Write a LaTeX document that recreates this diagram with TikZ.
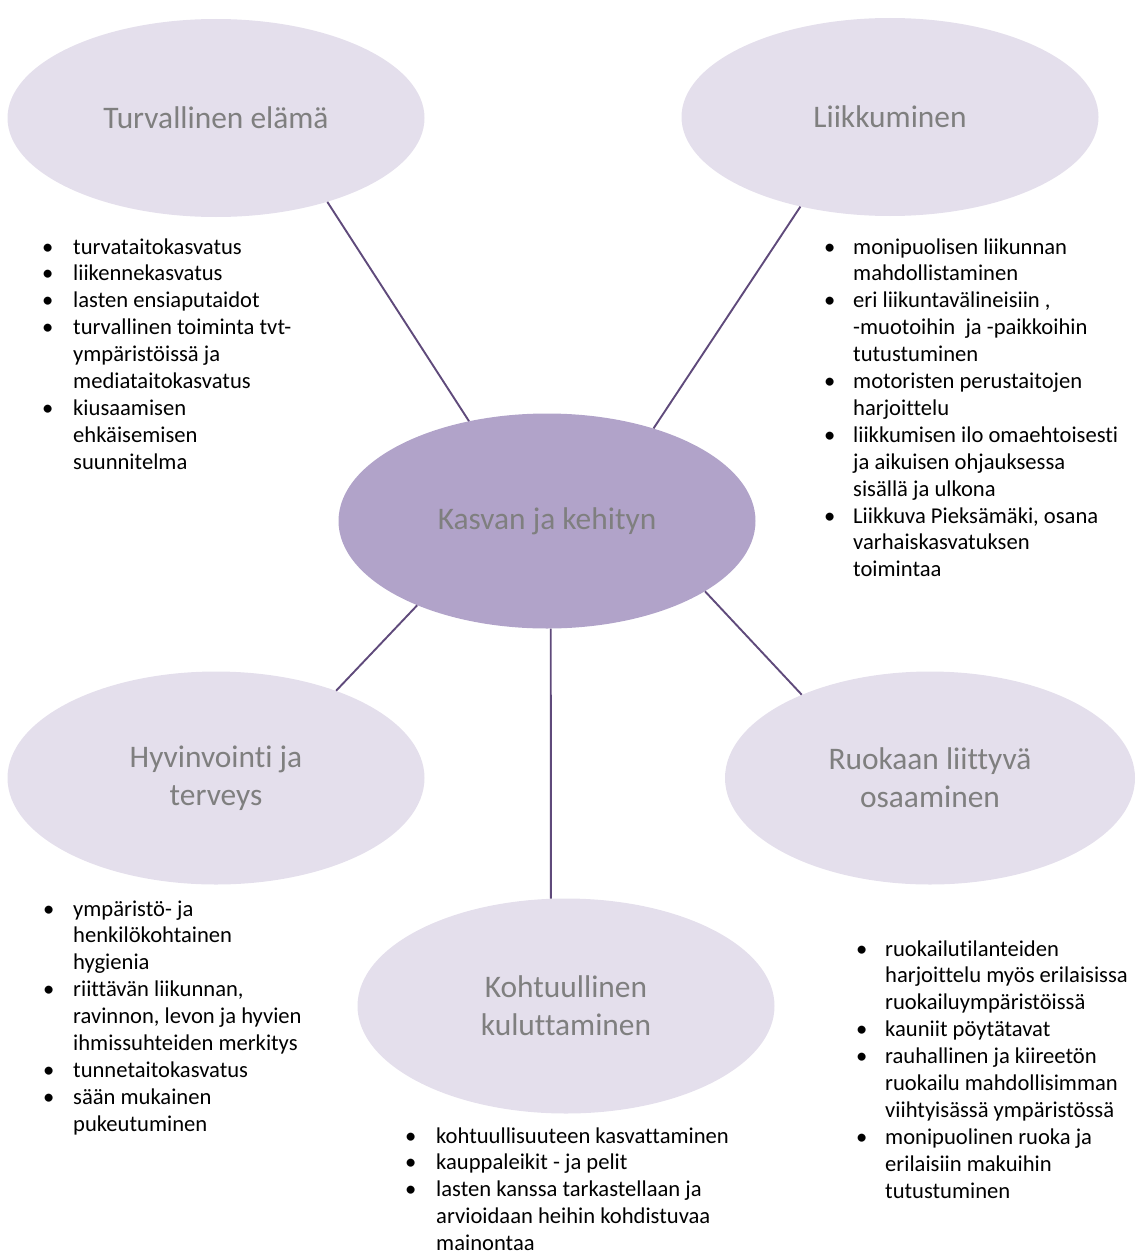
\documentclass[tikz,border=0pt]{standalone}
\usepackage{fontspec}
\setmainfont{Carlito}[Ligatures=NoCommon]
\usepackage{xcolor}
\usepackage{tikz}
\usetikzlibrary{shapes,positioning}
\definecolor{pale}{HTML}{E4DFEC}
\definecolor{mid}{HTML}{B1A3C9}
\definecolor{spokec}{HTML}{5F4A7B}
\definecolor{ttl}{HTML}{7F7F7F}

\begin{document}
\begin{tikzpicture}[x=1pt,y=-1pt,
    bubble/.style={ellipse,draw=none,fill=pale,inner sep=0pt,minimum width=417pt,
        minimum height=198pt,text=ttl,font=\fontsize{31.4}{38}\selectfont,align=center},
    hub/.style={bubble,fill=mid,minimum height=215pt},
    notes/.style={anchor=base west,inner sep=0pt,font=\fontsize{22.6}{26.9}\selectfont},
    spoke/.style={draw=spokec,line width=1.9pt}]
    \useasboundingbox (0,0) rectangle (1135,1255);

    % Bubbles
    \node[hub] (kasvu) at (547,521) {Kasvan ja kehityn};
    \node[bubble] (turva) at (216,118) {Turvallinen elämä};
    \node[bubble] (liikk) at (890,117) {Liikkuminen};
    \node[bubble,minimum height=213pt] (hyvin) at (216,778) {Hyvinvointi ja\\terveys};
    \node[bubble,minimum width=410pt,minimum height=213pt] (ruoka) at (930,778) {Ruokaan liittyvä\\osaaminen};
    \node[bubble,minimum height=215pt] (kohtu) at (566,1006) {Kohtuullinen\\kuluttaminen};

    % Spokes
    \draw[spoke] (turva.-37.6) -- (kasvu.128.7);
    \draw[spoke] (liikk.225.6) -- (kasvu.41.3);
    \draw[spoke] (kasvu.213.5) -- (hyvin.36.9);
    \draw[spoke] (kasvu.-24.1) -- (ruoka.147.1);
    \draw[spoke] (kasvu.-88) -- (kohtu.98);

    % Lists
    \node[notes] (turvalist) at (42,254) {\begin{tabular}[t]{@{}p{31pt}@{}l@{}}
        \textbullet & turvataitokasvatus\\
        \textbullet & liikennekasvatus\\
        \textbullet & lasten ensiaputaidot\\
        \textbullet & turvallinen toiminta tvt-\\
                    & ympäristöissä ja\\
                    & mediataitokasvatus\\
        \textbullet & kiusaamisen\\
                    & ehkäisemisen\\
                    & suunnitelma
    \end{tabular}};
    \node[notes] (liikklist) at (824,254) {\begin{tabular}[t]{@{}p{29pt}@{}l@{}}
        \textbullet & monipuolisen liikunnan\\
                    & mahdollistaminen\\
        \textbullet & eri liikuntavälineisiin ,\\
                    & -muotoihin\ \ ja -paikkoihin\\
                    & tutustuminen\\
        \textbullet & motoristen perustaitojen\\
                    & harjoittelu\\
        \textbullet & liikkumisen ilo omaehtoisesti\\
                    & ja aikuisen ohjauksessa\\
                    & sisällä ja ulkona\\
        \textbullet & Liikkuva Pieksämäki, osana\\
                    & varhaiskasvatuksen\\
                    & toimintaa
    \end{tabular}};
    \node[notes] (hyvinlist) at (43,916) {\begin{tabular}[t]{@{}p{30pt}@{}l@{}}
        \textbullet & ympäristö- ja\\
                    & henkilökohtainen\\
                    & hygienia\\
        \textbullet & riittävän liikunnan,\\
                    & ravinnon, levon ja hyvien\\
                    & ihmissuhteiden merkitys\\
        \textbullet & tunnetaitokasvatus\\
        \textbullet & sään mukainen\\
                    & pukeutuminen
    \end{tabular}};
    \node[notes] (kohtulist) at (405,1143) {\begin{tabular}[t]{@{}p{31pt}@{}l@{}}
        \textbullet & kohtuullisuuteen kasvattaminen\\
        \textbullet & kauppaleikit - ja pelit\\
        \textbullet & lasten kanssa tarkastellaan ja\\
                    & arvioidaan heihin kohdistuvaa\\
                    & mainontaa
    \end{tabular}};
    \node[notes] (ruokalist) at (856,956) {\begin{tabular}[t]{@{}p{29pt}@{}l@{}}
        \textbullet & ruokailutilanteiden\\
                    & harjoittelu myös erilaisissa\\
                    & ruokailuympäristöissä\\
        \textbullet & kauniit pöytätavat\\
        \textbullet & rauhallinen ja kiireetön\\
                    & ruokailu mahdollisimman\\
                    & viihtyisässä ympäristössä\\
        \textbullet & monipuolinen ruoka ja\\
                    & erilaisiin makuihin\\
                    & tutustuminen
    \end{tabular}};
\end{tikzpicture}
\end{document}
